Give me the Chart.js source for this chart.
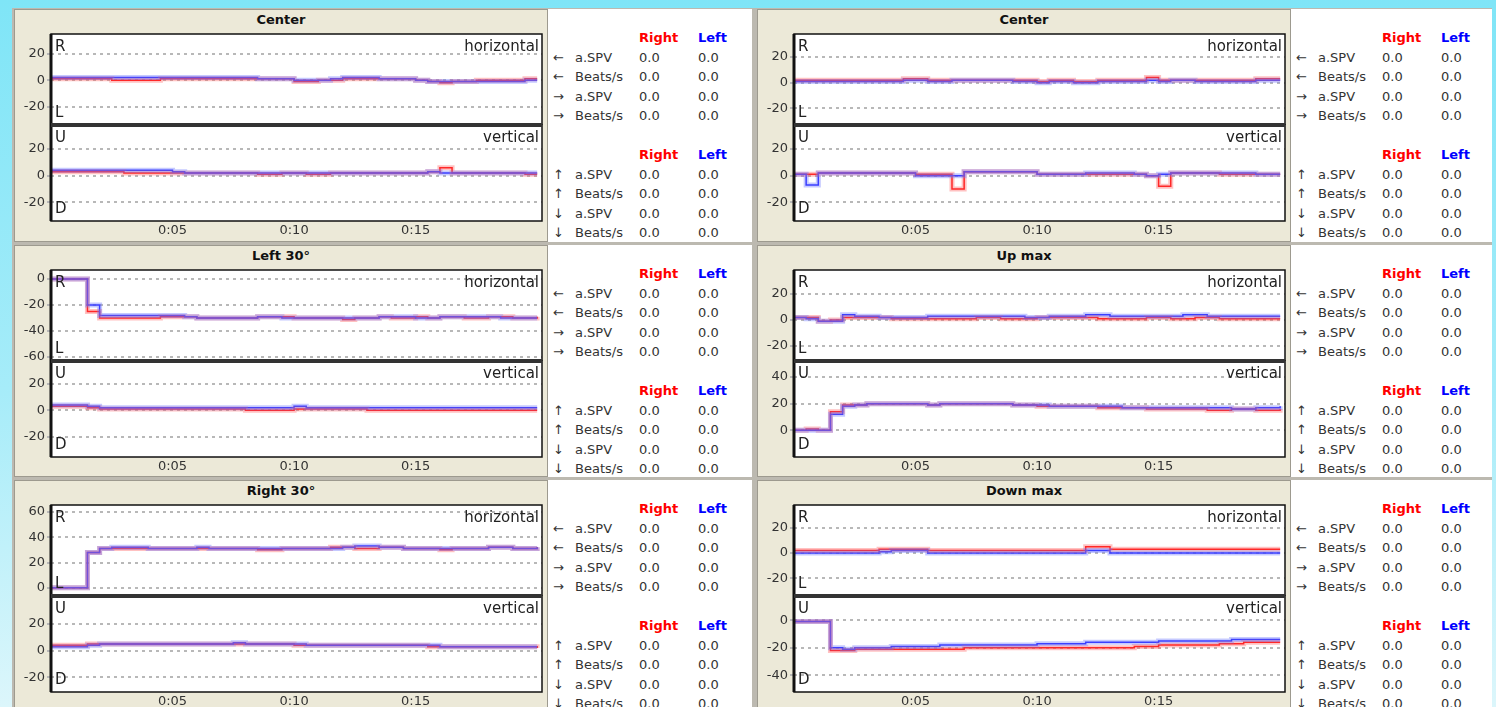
<!DOCTYPE html>
<html>
<head>
<meta charset="utf-8">
<title>Nystagmus recording</title>
<script src="https://cdn.jsdelivr.net/npm/chart.js@4.4.1/dist/chart.umd.min.js"></script>
<style>
html, body { margin: 0; padding: 0; }
body {
    width: 1496px; height: 707px; overflow: hidden; position: relative;
    background: linear-gradient(to bottom, #7fe5f7 0%, #a6ecf9 55%, #dcf6fb 100%);
    font-family: "DejaVu Sans", sans-serif;
}
#frame { position: absolute; left: 12px; top: 8px; width: 1480px; height: 720px; background: #bcb9b0; }
.cell { position: absolute; background: #fff; }
.plotside {
    position: absolute; left: 0; top: 0; width: 534px; height: 100%;
    background: #ece9d8; border: 1px solid #9d9a8f; box-sizing: border-box;
}
.title { position: absolute; left: 0; width: 534px; top: 3px; text-align: center; font: bold 13px "DejaVu Sans"; color: #111; }
.cell canvas { position: absolute; }
.stat { position: absolute; font-size: 13px; line-height: 16px; color: #333; white-space: nowrap; }
.stat.r { color: #ff0000; font-weight: bold; }
.stat.l { color: #0000ff; font-weight: bold; }
</style>
</head>
<body>
<div id="frame"></div>
<script>
// time base (seconds)
const times = [0, 0.5, 1, 1.5, 2, 2.5, 3, 3.5, 4, 4.5,
    5, 5.5, 6, 6.5, 7, 7.5, 8, 8.5, 9, 9.5,
    10, 10.5, 11, 11.5, 12, 12.5, 13, 13.5, 14, 14.5,
    15, 15.5, 16, 16.5, 17, 17.5, 18, 18.5, 19, 19.5, 20];
const xTicks = [5, 10, 15];

// Center (left column)
const center1HorRight = [1,1,1,1,1,0,0,0,0,1, 1,1,1,1,1,1,1,1,1,1, -1,-1,0,0,1,1,1,1,1,1, 0,-1,-2,-1,-1,0,0,0,0,1, 1];
const center1HorLeft  = [2,2,2,2,2,2,2,2,2,2, 2,2,2,2,2,2,2,1,1,1, 0,0,0,1,2,2,2,1,1,1, 0,-1,-1,-1,-1,-1,-1,-1,-1,0, 0];
const center1VerRight = [3,3,3,3,3,3,2,2,2,2, 2,2,2,2,2,2,2,1,1,2, 2,1,1,2,2,2,2,2,2,2, 2,3,6,2,2,2,2,2,2,1, 1];
const center1VerLeft  = [4,4,4,4,4,4,4,4,4,4, 3,2,2,2,2,2,2,2,2,2, 2,2,2,2,2,2,2,2,2,2, 2,3,2,2,2,2,2,2,2,2, 2];
const center1HorTicks = [-20, 0, 20];
const center1VerTicks = [-20, 0, 20];

// Left 30°
const left30HorRight = [0,0,0,-25,-30,-30,-30,-30,-30,-29, -29,-29,-30,-30,-30,-30,-30,-29,-29,-29, -30,-30,-30,-30,-31,-30,-30,-29,-30,-30, -29,-30,-29,-29,-30,-30,-29,-29,-30,-30, -29];
const left30HorLeft  = [0,0,0,-20,-28,-28,-28,-28,-28,-28, -28,-29,-30,-30,-30,-30,-30,-29,-29,-30, -30,-30,-30,-30,-30,-30,-30,-29,-29,-29, -30,-30,-29,-29,-29,-29,-29,-30,-30,-30, -30];
const left30VerRight = [3,3,3,2,1,1,1,1,1,1, 1,1,1,1,1,1,0,0,0,0, 1,1,1,1,1,1,0,0,0,0, 0,0,0,0,0,0,0,0,0,0, 0];
const left30VerLeft  = [4,4,4,3,2,2,2,2,2,2, 2,2,2,2,2,2,2,2,2,2, 3,2,2,2,2,2,2,2,2,2, 2,2,2,2,2,2,2,2,2,2, 2];
const left30HorTicks = [-60, -40, -20, 0];
const left30VerTicks = [-20, 0, 20];

// Right 30°
const right30HorRight = [0,0,0,28,31,31,31,31,31,31, 31,31,31,31,31,31,31,30,30,31, 31,31,31,32,32,31,31,32,32,31, 31,31,30,31,31,31,32,32,31,31, 32];
const right30HorLeft  = [0,0,0,28,31,32,32,32,31,31, 31,31,32,31,31,31,31,31,31,31, 31,31,31,31,32,33,33,32,32,31, 31,31,31,31,31,31,32,32,31,31, 32];
const right30VerRight = [4,4,4,5,5,5,5,5,5,5, 5,5,5,5,5,5,5,5,5,5, 4,4,4,4,4,4,4,4,4,4, 4,3,3,3,3,3,3,3,3,3, 2];
const right30VerLeft  = [3,3,3,4,5,5,5,5,5,5, 5,5,5,5,5,6,5,5,5,5, 5,4,4,4,4,4,4,4,4,4, 4,4,3,3,3,3,3,3,3,3, 3];
const right30HorTicks = [0, 20, 40, 60];
const right30VerTicks = [-20, 0, 20];

// Center (right column)
const center2HorRight = [2,2,2,2,2,2,2,2,2,3, 3,2,2,2,2,2,2,2,2,2, 1,2,2,1,1,2,2,2,2,4, 2,2,2,2,2,2,2,2,3,3, 3];
const center2HorLeft  = [1,1,1,1,1,1,1,1,1,2, 2,1,1,2,2,2,2,2,1,1, 0,1,1,0,0,1,1,1,1,2, 1,2,2,1,1,1,1,1,2,2, 2];
const center2VerRight = [1,1,2,2,2,2,2,2,2,2, 1,1,1,-10,3,3,3,3,3,3, 1,1,1,1,1,1,1,1,1,0, -8,2,2,2,2,1,1,1,1,1, 1];
const center2VerLeft  = [1,-7,2,2,2,2,2,2,2,2, 0,0,0,0,3,3,3,3,3,3, 1,1,1,1,2,2,2,2,1,0, 1,2,2,2,2,2,2,2,1,1, 1];
const center2HorTicks = [-20, 0, 20];
const center2VerTicks = [-20, 0, 20];

// Up max
const upMaxHorRight = [2,2,-1,0,2,2,2,2,1,1, 1,1,1,1,1,2,2,1,1,1, 2,2,2,2,2,1,1,1,1,2, 2,1,1,2,2,1,1,1,1,1, 1];
const upMaxHorLeft  = [2,1,-1,-1,4,3,3,2,2,2, 2,3,3,3,3,3,3,3,3,2, 2,3,3,3,4,4,3,3,3,3, 3,3,4,4,3,3,3,3,3,3, 3];
const upMaxVerRight = [0,1,0,14,19,19,20,20,20,20, 20,19,20,20,20,20,20,20,19,19, 18,18,18,18,18,17,17,17,17,16, 16,16,16,16,15,15,16,16,15,15, 16];
const upMaxVerLeft  = [0,0,0,12,18,19,20,20,20,20, 20,19,20,20,20,20,20,20,19,19, 19,18,18,18,18,18,18,17,17,17, 17,17,17,17,17,17,16,16,17,17, 18];
const upMaxHorTicks = [-20, 0, 20];
const upMaxVerTicks = [0, 20, 40];

// Down max
const downMaxHorRight = [2,2,2,2,2,2,2,3,3,3, 3,2,2,2,2,2,2,2,2,2, 2,2,2,2,5,5,3,3,3,3, 3,3,3,3,3,3,3,3,3,3, 3];
const downMaxHorLeft  = [0,0,0,0,0,0,0,1,2,2, 2,0,0,0,0,0,0,0,0,0, 0,0,0,0,2,2,0,0,0,0, 0,0,0,0,0,0,0,0,0,0, 0];
const downMaxVerRight = [-1,-1,-1,-22,-22,-21,-21,-21,-21,-21, -21,-21,-21,-21,-20,-20,-20,-20,-20,-20, -20,-20,-20,-20,-20,-20,-20,-20,-19,-19, -18,-18,-18,-18,-18,-17,-17,-16,-16,-16, -16];
const downMaxVerLeft  = [-1,-1,-1,-20,-21,-20,-20,-20,-19,-19, -19,-19,-18,-18,-18,-18,-18,-18,-18,-18, -17,-17,-17,-17,-16,-16,-16,-16,-16,-16, -15,-15,-15,-15,-15,-15,-14,-14,-14,-14, -14];
const downMaxHorTicks = [-20, 0, 20];
const downMaxVerTicks = [-40, -20, 0];

// side tables
const horRowArrows = ['\u2190', '\u2190', '\u2192', '\u2192'];
const verRowArrows = ['\u2191', '\u2191', '\u2193', '\u2193'];
const rowNames = ['a.SPV', 'Beats/s', 'a.SPV', 'Beats/s'];
const statRight = [0, 0, 0, 0];
const statLeft = [0, 0, 0, 0];

const panels = [
    { title: 'Center', col: 0, row: 0,
      h: { right: center1HorRight, left: center1HorLeft, ticks: center1HorTicks, min: -34, max: 35 },
      v: { right: center1VerRight, left: center1VerLeft, ticks: center1VerTicks, min: -34, max: 38 } },
    { title: 'Left 30\u00b0', col: 0, row: 1,
      h: { right: left30HorRight, left: left30HorLeft, ticks: left30HorTicks, min: -63, max: 7 },
      v: { right: left30VerRight, left: left30VerLeft, ticks: left30VerTicks, min: -35, max: 37 } },
    { title: 'Right 30\u00b0', col: 0, row: 2,
      h: { right: right30HorRight, left: right30HorLeft, ticks: right30HorTicks, min: -6.5, max: 65.5 },
      v: { right: right30VerRight, left: right30VerLeft, ticks: right30VerTicks, min: -31, max: 41 } },
    { title: 'Center', col: 1, row: 0,
      h: { right: center2HorRight, left: center2HorLeft, ticks: center2HorTicks, min: -33, max: 38 },
      v: { right: center2VerRight, left: center2VerLeft, ticks: center2VerTicks, min: -34, max: 38 } },
    { title: 'Up max', col: 1, row: 1,
      h: { right: upMaxHorRight, left: upMaxHorLeft, ticks: upMaxHorTicks, min: -31.5, max: 38.5 },
      v: { right: upMaxVerRight, left: upMaxVerLeft, ticks: upMaxVerTicks, min: -20, max: 52 } },
    { title: 'Down max', col: 1, row: 2,
      h: { right: downMaxHorRight, left: downMaxHorLeft, ticks: downMaxHorTicks, min: -34, max: 38 },
      v: { right: downMaxVerRight, left: downMaxVerLeft, ticks: downMaxVerTicks, min: -52, max: 17.5 } }
];

const colX = [2, 745];
const colW = [738, 735];
const rowY = [1, 237, 472];
const rowH = [233, 232, 240];

const FONT = 'DejaVu Sans';

// white plot box, black frame, corner captions
const plotFrame = {
    id: 'plotFrame',
    beforeDraw(chart) {
        const { ctx, chartArea: a } = chart;
        ctx.save();
        ctx.fillStyle = '#fff';
        ctx.fillRect(a.left, a.top, a.width, a.height);
        ctx.restore();
    },
    afterDraw(chart, args, opts) {
        const { ctx, chartArea: a } = chart;
        ctx.save();
        ctx.strokeStyle = '#111';
        ctx.lineWidth = 1.5;
        ctx.strokeRect(a.left, a.top, a.width, a.height);
        ctx.lineWidth = 3;
        ctx.beginPath();
        ctx.moveTo(a.left, a.top);
        ctx.lineTo(a.left, a.bottom);
        ctx.stroke();
        ctx.strokeStyle = '#333';
        ctx.lineWidth = 4;
        ctx.beginPath();
        if (opts.divider === 'bottom') {
            ctx.moveTo(a.left, a.bottom);
            ctx.lineTo(a.right, a.bottom);
        } else {
            ctx.moveTo(a.left, a.top);
            ctx.lineTo(a.right, a.top);
        }
        ctx.stroke();

        ctx.fillStyle = '#222';
        ctx.font = '15px "' + FONT + '"';
        ctx.textBaseline = 'middle';
        ctx.textAlign = 'left';
        ctx.fillText(opts.top, a.left + 4, a.top + 13);
        ctx.fillText(opts.bottom, a.left + 4, a.bottom - 12);
        ctx.textAlign = 'right';
        ctx.fillText(opts.name, a.right - 3, a.top + 13);
        ctx.restore();
    }
};

function toPoints(arr) {
    return arr.map((v, i) => ({ x: times[i], y: v }));
}

function traceSets(right, left) {
    return [
        { data: toPoints(left), borderColor: 'rgba(110,120,255,0.4)', borderWidth: 5 },
        { data: toPoints(right), borderColor: 'rgba(255,100,100,0.4)', borderWidth: 5 },
        { data: toPoints(left), borderColor: '#1a1aff', borderWidth: 1.5 },
        { data: toPoints(right), borderColor: '#ff0000', borderWidth: 1.5 }
    ].map(d => Object.assign(d, { stepped: true, pointRadius: 0, fill: false }));
}

function makeChart(canvas, sub, showX, captions) {
    return new Chart(canvas, {
        type: 'line',
        data: { datasets: traceSets(sub.right, sub.left) },
        options: {
            animation: false,
            responsive: false,
            events: [],
            layout: { padding: { top: 1, right: 1, left: 0, bottom: 0 } },
            plugins: {
                legend: { display: false },
                tooltip: { enabled: false },
                plotFrame: captions
            },
            scales: {
                x: {
                    type: 'linear',
                    min: 0,
                    max: 20.2,
                    display: showX,
                    afterBuildTicks: s => { s.ticks = xTicks.map(v => ({ value: v })); },
                    afterFit: s => { s.height = showX ? 20 : 0; s.paddingLeft = 0; s.paddingRight = 0; },
                    grid: { display: false, drawTicks: false },
                    border: { display: false },
                    ticks: {
                        autoSkip: false,
                        maxRotation: 0,
                        padding: 2,
                        color: '#333',
                        font: { family: FONT, size: 13 },
                        callback: v => '0:' + String(v).padStart(2, '0')
                    }
                },
                y: {
                    min: sub.min,
                    max: sub.max,
                    afterBuildTicks: s => { s.ticks = sub.ticks.map(v => ({ value: v })); },
                    afterFit: s => { s.width = 37; s.paddingTop = 0; s.paddingBottom = 0; },
                    grid: { color: '#b8b8b8', lineWidth: 2, tickLength: 4, drawTicks: true },
                    border: { display: false, dash: [3, 4] },
                    ticks: {
                        padding: 2,
                        color: '#333',
                        font: { family: FONT, size: 13 }
                    }
                }
            }
        },
        plugins: [plotFrame]
    });
}

function addText(cell, cls, text, x, y) {
    const el = document.createElement('div');
    el.className = 'stat' + (cls ? ' ' + cls : '');
    el.style.left = x + 'px';
    el.style.top = y + 'px';
    el.textContent = text;
    cell.appendChild(el);
}

function addStats(cell, arrows, top) {
    addText(cell, 'r', 'Right', 625, top);
    addText(cell, 'l', 'Left', 684, top);
    for (let i = 0; i < rowNames.length; i++) {
        const y = Math.round(top + 20 + 19.4 * i);
        addText(cell, '', arrows[i], 539, y);
        addText(cell, '', rowNames[i], 561, y);
        addText(cell, '', statRight[i].toFixed(1), 625, y);
        addText(cell, '', statLeft[i].toFixed(1), 684, y);
    }
}

const frame = document.getElementById('frame');

panels.forEach(p => {
    const cell = document.createElement('div');
    cell.className = 'cell';
    cell.style.left = colX[p.col] + 'px';
    cell.style.top = rowY[p.row] + 'px';
    cell.style.width = colW[p.col] + 'px';
    cell.style.height = rowH[p.row] + 'px';

    const side = document.createElement('div');
    side.className = 'plotside';
    cell.appendChild(side);

    const title = document.createElement('div');
    title.className = 'title';
    title.textContent = p.title;
    cell.appendChild(title);

    const hc = document.createElement('canvas');
    hc.width = 529; hc.height = 92;
    hc.style.left = '0px'; hc.style.top = '24px';
    cell.appendChild(hc);

    const vc = document.createElement('canvas');
    vc.width = 529; vc.height = 117;
    vc.style.left = '0px'; vc.style.top = '115px';
    cell.appendChild(vc);

    frame.appendChild(cell);

    makeChart(hc, p.h, false, { top: 'R', bottom: 'L', name: 'horizontal', divider: 'bottom' });
    makeChart(vc, p.v, true, { top: 'U', bottom: 'D', name: 'vertical', divider: 'top' });

    addStats(cell, horRowArrows, 21);
    addStats(cell, verRowArrows, 138);
});
</script>
</body>
</html>
